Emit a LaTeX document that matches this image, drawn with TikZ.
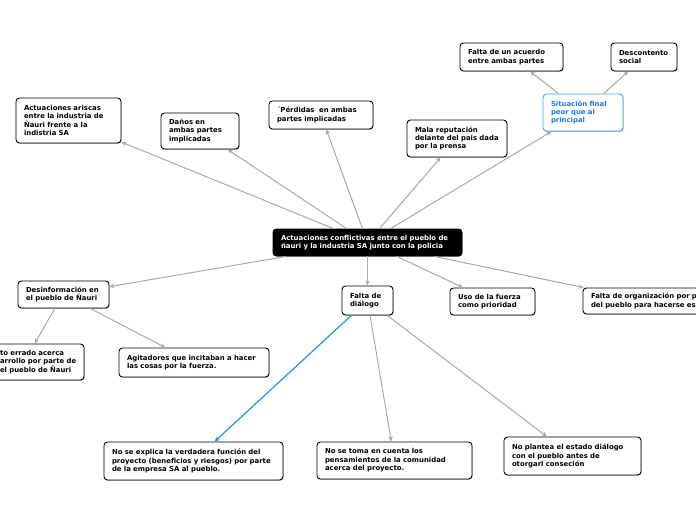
\documentclass[tikz,border=0pt]{standalone}
\usepackage{fontspec}
\setmainfont{DejaVu Sans}
\usepackage{tikz}
\usepackage{xcolor}
\usetikzlibrary{arrows.meta}
\usetikzlibrary{shadows}
\definecolor{linkgray}{HTML}{A9A9A9}
\definecolor{linkblue}{HTML}{2196E0}
\definecolor{boxblue}{HTML}{4A9EF5}
\definecolor{textblue}{HTML}{1C7CE0}
\newcommand\mapfont{\fontsize{6.9}{8.4}\selectfont\bfseries}
\tikzset{mapbox/.style={draw=black, line width=0.9pt, rounded corners=3.5pt, fill=white,
   inner xsep=8pt, inner ysep=2pt, font=\mapfont,
   execute at begin node={\rightskip=0pt plus 1fil minus 30pt\relax},
   drop shadow={shadow xshift=0.6pt, shadow yshift=-0.8pt, fill=black, opacity=0.3}},
 rootbox/.style={mapbox, fill=black, text=white},
 bluebox/.style={mapbox, draw=boxblue, text=textblue},
 link/.style={draw=linkgray, line width=1pt, ->},
 bluelink/.style={draw=linkblue, line width=1.2pt, ->},
 >={Stealth[length=5pt, width=4.5pt]},
 }

\begin{document}
\begin{tikzpicture}[x=1pt, y=-1pt]
        \useasboundingbox (0,0) rectangle (696,520);
        \clip (0,0) rectangle (696,520);
        % centre
        \node[rootbox, text width=173pt, minimum height=27pt] (root) at (367.5,242.5)
            {Actuaciones conflictivas entre el pueblo de\\ñauri y la industria SA junto con la policia};
        % upper branch
        \node[mapbox, text width=89pt, minimum height=45pt] (ariscas) at (68.5,120.5)
            {Actuaciones ariscas\\entre la industria de\\Ñauri frente a la\\indistria SA};
        \node[mapbox, text width=62pt, minimum height=36pt] (danos) at (200,131)
            {Daños en\\ambas partes\\implicadas};
        \node[mapbox, text width=88pt, minimum height=28pt] (perdidas) at (321,115)
            {´Pérdidas~ en ambas\\partes implicadas};
        \node[mapbox, text width=84pt, minimum height=37pt] (reputacion) at (457,138.5)
            {Mala reputación\\delante del pais dada\\por la prensa};
        \node[bluebox, text width=64pt, minimum height=37pt] (situacion) at (583,112.5)
            {Situación final\\peor que al\\principal};
        \node[mapbox, text width=87pt, minimum height=28pt] (acuerdo) at (511.5,57)
            {Falta de un acuerdo\\entre ambas partes};
        \node[mapbox, text width=50pt, minimum height=28pt] (descontento) at (644,57)
            {Descontento\\social};
        % lower branch
        \node[mapbox, text width=35pt, minimum height=29pt] (dialogo) at (367.5,300.5)
            {Falta de\\diálogo};
        \node[mapbox, text width=69pt, minimum height=27pt] (fuerza) at (492.5,301.5)
            {Uso de la fuerza\\como prioridad};
        \node[mapbox, text width=114pt, minimum height=26pt] (organizacion) at (648,301)
            {Falta de organización por p\\del pueblo para hacerse es};
        \node[mapbox, text width=75pt, minimum height=27pt] (desinfo) at (63.5,294.5)
            {Desinformación en\\el pueblo de Ñauri};
        \node[mapbox, text width=76pt, minimum height=36pt] (concepto) at (38,362)
            {to errado acerca\\arrollo por parte de\\el pueblo de Ñauri};
        \node[mapbox, text width=134pt, minimum height=29pt] (agitadores) at (194,362.5)
            {Agitadores que incitaban a hacer\\las cosas por la fuerza.};
        \node[mapbox, text width=163pt, minimum height=38pt] (explica) at (193.5,461)
            {No se explica la verdadera función del\\proyecto (beneficios y riesgos) por parte\\de la empresa SA al pueblo.};
        \node[mapbox, text width=139pt, minimum height=37pt] (toma) at (394.5,460.5)
            {No se toma en cuenta los\\pensamientos de la comunidad\\acerca del proyecto.};
        \node[mapbox, text width=121pt, minimum height=38pt] (plantea) at (572.5,456)
            {No plantea el estado diálogo\\con el pueblo antes de\\otorgarl conseción};
        % connectors
        \foreach \to in {ariscas, danos, perdidas, reputacion, situacion, dialogo, fuerza, organizacion, desinfo} {
            \draw[link] (root) -- (\to);
        }
        \draw[link] (situacion) -- (acuerdo);
        \draw[link] (situacion) -- (descontento);
        \draw[link] (desinfo.238) -- (concepto.100);
        \draw[link] (desinfo) -- (agitadores);
        \draw[bluelink] (dialogo) -- (explica);
        \draw[link] (dialogo) -- (toma);
        \draw[link] (dialogo) -- (plantea);
    \end{tikzpicture}
\end{document}
